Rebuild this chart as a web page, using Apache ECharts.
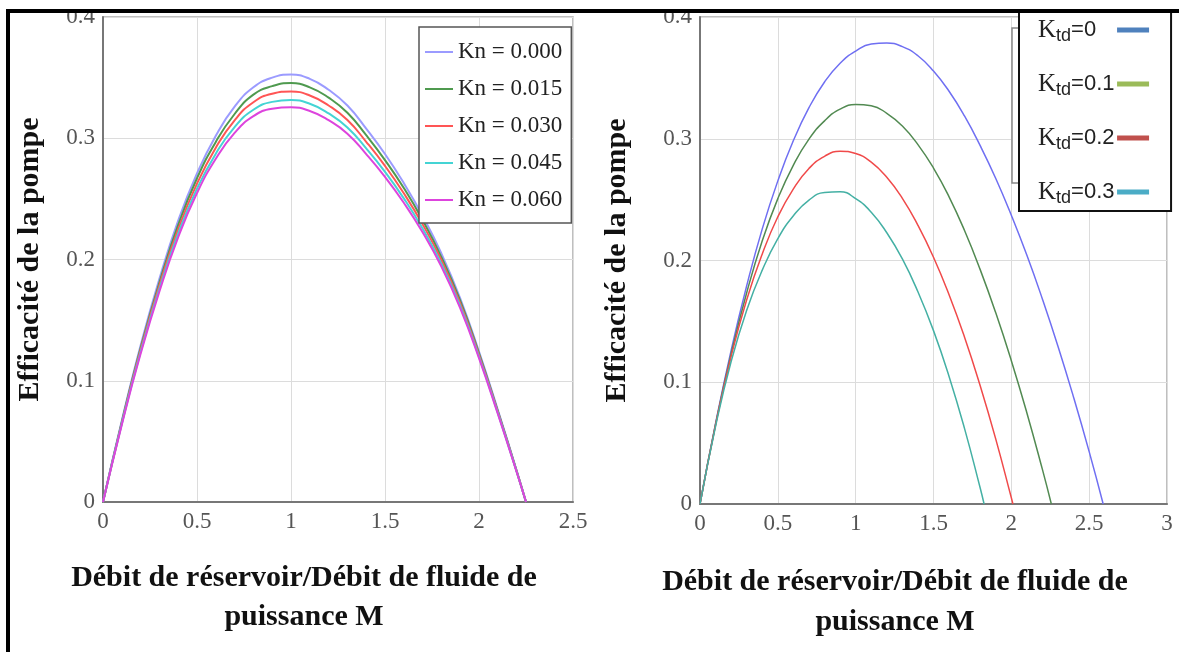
<!DOCTYPE html>
<html>
<head>
<meta charset="utf-8">
<script src="https://cdn.jsdelivr.net/npm/echarts@6/dist/echarts.min.js"></script>
<style>
  html, body { margin: 0; padding: 0; background: #fff; }
  #chart { width: 1179px; height: 652px; }
</style>
</head>
<body>
<div id="chart"></div>
<script>
// left panel: effect of Kn
const knNames = ["Kn = 0.000", "Kn = 0.015", "Kn = 0.030", "Kn = 0.045", "Kn = 0.060"];
const mKn = [0, 0.1, 0.2, 0.3, 0.4, 0.5, 0.6, 0.7, 0.8, 0.9, 1.0, 1.1, 1.2, 1.3, 1.4, 1.5, 1.6, 1.7, 1.8, 1.9, 2.0, 2.1, 2.2, 2.25];
const effKn000 = [0, 0.067, 0.129, 0.184, 0.232, 0.271, 0.302, 0.326, 0.342, 0.350, 0.3525, 0.349, 0.340, 0.327, 0.308, 0.287, 0.263, 0.236, 0.205, 0.168, 0.124, 0.076, 0.026, 0];
const effKn015 = [0, 0.066, 0.127, 0.181, 0.2285, 0.267, 0.297, 0.320, 0.336, 0.343, 0.3455, 0.342, 0.3335, 0.321, 0.3025, 0.282, 0.259, 0.2325, 0.202, 0.166, 0.1226, 0.075, 0.0257, 0];
const effKn030 = [0, 0.065, 0.1255, 0.1787, 0.225, 0.2626, 0.2922, 0.3148, 0.3297, 0.3367, 0.3385, 0.3353, 0.327, 0.315, 0.2971, 0.2772, 0.2546, 0.229, 0.1994, 0.1638, 0.1212, 0.0743, 0.0254, 0];
const effKn045 = [0, 0.0645, 0.1237, 0.176, 0.2215, 0.2584, 0.2873, 0.3092, 0.3235, 0.330, 0.3315, 0.3284, 0.3205, 0.3089, 0.2916, 0.2723, 0.2504, 0.2255, 0.1966, 0.1617, 0.1198, 0.0735, 0.0252, 0];
const effKn060 = [0, 0.0638, 0.1222, 0.1737, 0.2185, 0.2548, 0.2831, 0.3044, 0.3182, 0.3243, 0.3255, 0.3225, 0.3149, 0.3038, 0.2869, 0.2681, 0.2468, 0.2225, 0.1942, 0.1599, 0.1186, 0.0728, 0.0249, 0];
const knColors = ["#9b9bff", "#4f9a4f", "#ff5555", "#44d4d4", "#dd44dd"];

// right panel: effect of Ktd
const ktdNames = ["Ktd=0", "Ktd=0.1", "Ktd=0.2", "Ktd=0.3"];
const mKtd0 = [0, 0.1, 0.2, 0.3, 0.4, 0.5, 0.6, 0.7, 0.8, 0.9, 1.0, 1.1, 1.2, 1.3, 1.4, 1.5, 1.6, 1.7, 1.8, 1.9, 2.0, 2.1, 2.2, 2.3, 2.4, 2.5, 2.59];
const effKtd0 = [0, 0.0662, 0.1262, 0.1793, 0.226, 0.2654, 0.2985, 0.3255, 0.3466, 0.362, 0.372, 0.3778, 0.3786, 0.3757, 0.3682, 0.3556, 0.339, 0.3185, 0.2943, 0.2674, 0.2372, 0.2043, 0.1682, 0.1294, 0.0876, 0.043, 0];
const mKtd01 = [0, 0.1, 0.2, 0.3, 0.4, 0.5, 0.6, 0.7, 0.8, 0.9, 1.0, 1.1, 1.2, 1.3, 1.4, 1.5, 1.6, 1.7, 1.8, 1.9, 2.0, 2.1, 2.2, 2.257];
const effKtd01 = [0, 0.0655, 0.1234, 0.1735, 0.2162, 0.2508, 0.2784, 0.2997, 0.3147, 0.3243, 0.3281, 0.3271, 0.3209, 0.3104, 0.2952, 0.2759, 0.2523, 0.2244, 0.1925, 0.157, 0.1177, 0.0748, 0.0282, 0];
const mKtd02 = [0, 0.1, 0.2, 0.3, 0.4, 0.5, 0.6, 0.7, 0.8, 0.9, 1.0, 1.1, 1.2, 1.3, 1.4, 1.5, 1.6, 1.7, 1.8, 1.9, 2.0, 2.01];
const effKtd02 = [0, 0.0649, 0.1213, 0.1678, 0.2054, 0.2359, 0.2589, 0.2756, 0.2856, 0.2897, 0.2879, 0.2808, 0.2683, 0.2511, 0.2289, 0.2027, 0.1719, 0.1368, 0.0971, 0.0533, 0.0051, 0];
const mKtd03 = [0, 0.1, 0.2, 0.3, 0.4, 0.5, 0.6, 0.7, 0.8, 0.9, 1.0, 1.1, 1.2, 1.3, 1.4, 1.5, 1.6, 1.7, 1.8, 1.825];
const effKtd03 = [0, 0.0638, 0.117, 0.1592, 0.1921, 0.218, 0.2367, 0.2496, 0.2558, 0.2564, 0.2508, 0.2397, 0.2228, 0.2013, 0.1743, 0.1424, 0.1048, 0.0617, 0.0131, 0];
const ktdColors = ["#6f6ff2", "#528a52", "#f04a4a", "#44b0a4"];
const ktdLegendColors = ["#4f81bd", "#9bbb59", "#c0504d", "#4bacc6"];

const yTitle = "Efficacité de la pompe";
const xTitle = ["Débit de réservoir/Débit de fluide de", "puissance M"];

const serif = "'Liberation Serif', 'Times New Roman', serif";
const sans = "'Liberation Sans', Arial, sans-serif";

const chart = echarts.init(document.getElementById("chart"));

function pairs(xs, ys) {
  return ys.map((v, i) => [xs[i], v]);
}

function valueAxis(idx, max, extra) {
  return Object.assign({
    type: "value",
    gridIndex: idx,
    min: 0,
    max: max,
    interval: max === 0.4 ? 0.1 : 0.5,
    axisLine: { show: true, lineStyle: { color: "#777", width: 2 } },
    axisTick: { show: false },
    axisLabel: { fontFamily: serif, fontSize: 23, color: "#555" },
    splitLine: { lineStyle: { color: "#dcdcdc", width: 1 } }
  }, extra || {});
}

const knSeries = [effKn000, effKn015, effKn030, effKn045, effKn060].map((ys, i) => ({
  name: knNames[i],
  type: "line",
  xAxisIndex: 0,
  yAxisIndex: 0,
  data: pairs(mKn, ys),
  showSymbol: false,
  symbol: "none",
  smooth: 0.5,
  lineStyle: { color: knColors[i], width: 2 },
  itemStyle: { color: knColors[i] }
}));

const ktdX = [mKtd0, mKtd01, mKtd02, mKtd03];
const ktdSeries = [effKtd0, effKtd01, effKtd02, effKtd03].map((ys, i) => ({
  name: ktdNames[i],
  type: "line",
  xAxisIndex: 1,
  yAxisIndex: 1,
  data: pairs(ktdX[i], ys),
  showSymbol: false,
  symbol: "none",
  smooth: 0.5,
  lineStyle: { color: ktdColors[i], width: 1.5 },
  itemStyle: { color: ktdColors[i] }
}));

const yName = {
  name: yTitle, nameLocation: "middle", nameRotate: 90,
  nameTextStyle: { fontFamily: serif, fontSize: 30, fontWeight: "bold", color: "#111" }
};

// rich styles for the Ktd legend: serif K, sans subscript, coloured swatch after the text
const ktdRich = {
  k: { fontFamily: serif, fontSize: 25, color: "#222", lineHeight: 30 },
  s: { fontFamily: sans, fontSize: 18, color: "#222", lineHeight: 16, verticalAlign: "bottom" },
  e: { fontFamily: sans, fontSize: 22, color: "#222", lineHeight: 30, width: 46, align: "left" }
};
ktdLegendColors.forEach((c, i) => {
  ktdRich["l" + i] = { width: 32, height: 5, backgroundColor: c, verticalAlign: "middle" };
});

chart.setOption({
  animation: false,
  backgroundColor: "#fff",
  grid: [
    { left: 103, top: 17, width: 470, height: 485, show: true, borderColor: "#aaa", borderWidth: 1.5 },
    { left: 700, top: 17, width: 467, height: 487, show: true, borderColor: "#aaa", borderWidth: 1.5 }
  ],
  xAxis: [
    valueAxis(0, 2.5, { axisLabel: { fontFamily: serif, fontSize: 23, color: "#555", margin: 8 } }),
    valueAxis(1, 3, { axisLabel: { fontFamily: serif, fontSize: 23, color: "#555", margin: 8 } })
  ],
  yAxis: [
    valueAxis(0, 0.4, Object.assign({ nameGap: 58 }, yName)),
    valueAxis(1, 0.4, Object.assign({ nameGap: 68 }, yName))
  ],
  legend: [
    {
      data: knNames,
      orient: "vertical",
      left: 419,
      top: 27,
      icon: "rect",
      padding: [12, 9, 10, 6],
      itemGap: 11,
      itemWidth: 28,
      itemHeight: 2,
      backgroundColor: "#fff",
      borderColor: "#555",
      borderWidth: 1.5,
      borderRadius: 0,
      textStyle: { fontFamily: serif, fontSize: 23, color: "#222", lineHeight: 26 }
    },
    {
      data: ktdNames,
      orient: "vertical",
      left: 1019,
      top: 0,
      icon: "rect",
      itemStyle: { opacity: 0 },
      padding: [15, 22, 4, 13],
      itemGap: 24,
      itemWidth: 1,
      itemHeight: 5,
      backgroundColor: "#fff",
      borderColor: "#111",
      borderWidth: 2,
      borderRadius: 0,
      formatter: n => "{k|K}{s|td}{e|" + n.slice(3) + "}{l" + ktdNames.indexOf(n) + "|}",
      textStyle: { lineHeight: 30, color: "#222", rich: ktdRich }
    }
  ],
  graphic: [
    // hidden frame peeking out behind the right legend
    { type: "rect", z: 1, shape: { x: 1012, y: 28, width: 14, height: 155 }, style: { fill: "#fff", stroke: "#888", lineWidth: 1.5 } },
    // x titles
    { type: "text", z: 10, x: 304, y: 578, style: { text: xTitle[0], font: "bold 30px " + serif, fill: "#111", align: "center", verticalAlign: "middle" } },
    { type: "text", z: 10, x: 304, y: 617, style: { text: xTitle[1], font: "bold 30px " + serif, fill: "#111", align: "center", verticalAlign: "middle" } },
    { type: "text", z: 10, x: 895, y: 582, style: { text: xTitle[0], font: "bold 30px " + serif, fill: "#111", align: "center", verticalAlign: "middle" } },
    { type: "text", z: 10, x: 895, y: 622, style: { text: xTitle[1], font: "bold 30px " + serif, fill: "#111", align: "center", verticalAlign: "middle" } },
    // outer frame, clipped at the top
    { type: "rect", z: 100, shape: { x: 0, y: 0, width: 1179, height: 9 }, style: { fill: "#fff" } },
    { type: "rect", z: 101, shape: { x: 8, y: 11, width: 1300, height: 800 }, style: { fill: null, stroke: "#000", lineWidth: 4 } }
  ],
  series: knSeries.concat(ktdSeries)
});
</script>
</body>
</html>
